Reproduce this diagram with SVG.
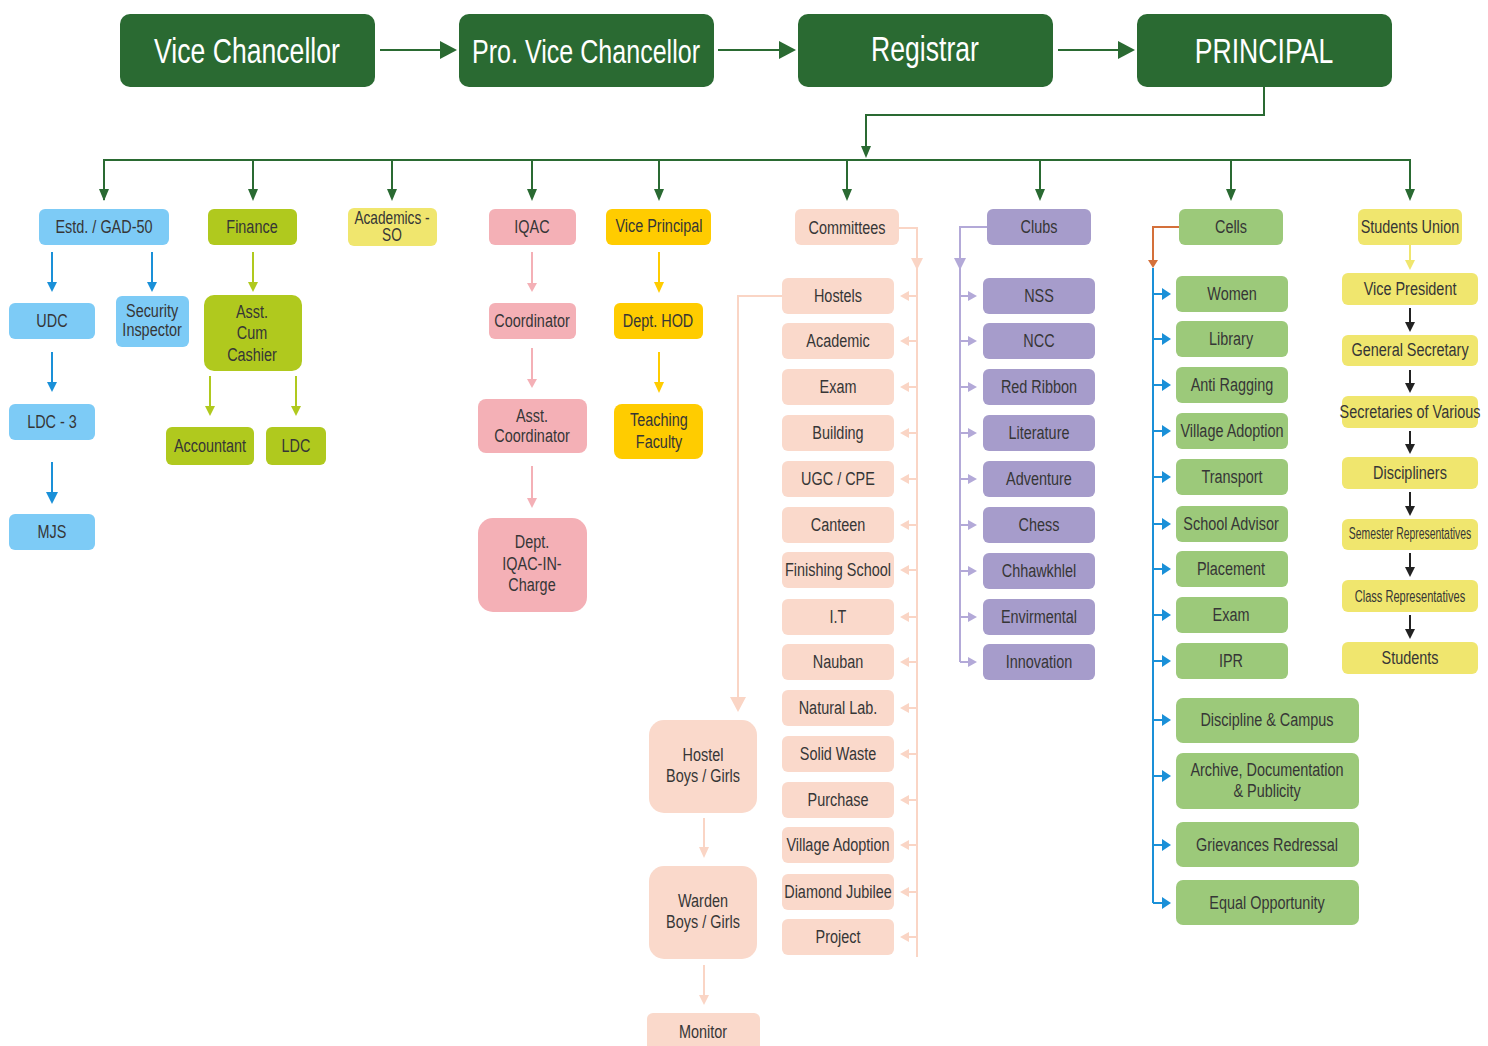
<svg xmlns="http://www.w3.org/2000/svg" width="1488" height="1046" viewBox="0 0 1488 1046">
<style>
.t{font-family:"Liberation Sans",Arial,sans-serif;font-size:19px;fill:#363636;text-anchor:middle;dominant-baseline:central;transform-box:fill-box;transform-origin:center;transform:scaleX(0.76)}
.tt{font-size:35px;fill:#fff}
.nar{transform:scaleX(0.65)}
.top{fill:#2a6a32}
.blue{fill:#7dcbf6}.lime{fill:#b0c91e}.ylw{fill:#f0e66e}.pink{fill:#f4b0b6}.gold{fill:#ffcc00}.peach{fill:#fad9cb}.lav{fill:#a69ccb}.grn{fill:#9cc97a}
.cg{stroke:#2a6a32;stroke-width:2;fill:none}
.cb{stroke:#1a90d8;stroke-width:2;fill:none}
.cl{stroke:#b0c91e;stroke-width:2;fill:none}
.cp{stroke:#f4b0b6;stroke-width:2;fill:none}
.cy{stroke:#ffcc00;stroke-width:2;fill:none}
.ce{stroke:#fad5c5;stroke-width:2;fill:none}
.cv{stroke:#b3a9d8;stroke-width:2;fill:none}
.co{stroke:#d4703a;stroke-width:2;fill:none}
.cs{stroke:#f0e66e;stroke-width:2;fill:none}
.ck{stroke:#222;stroke-width:2;fill:none}
</style>
<g id="connectors">
<path class="cg" d="M380,50H441M718,50H780M1058,50H1119"/>
<polygon fill="#2a6a32" points="440,41 457,50 440,59"/>
<polygon fill="#2a6a32" points="779,41 796,50 779,59"/>
<polygon fill="#2a6a32" points="1118,41 1135,50 1118,59"/>
<path class="cg" d="M1264,87V115H866V148"/>
<polygon fill="#2a6a32" points="861,146 871,146 866,158"/>
<path class="cg" d="M104,200V160H1410V190M253,160V190M392,160V190M532,160V190M659,160V190M847,160V190M1040,160V190M1231,160V190M104,160V190"/>
<g fill="#2a6a32">
<polygon points="99,189 109,189 104,201"/><polygon points="248,189 258,189 253,201"/><polygon points="387,189 397,189 392,201"/><polygon points="527,189 537,189 532,201"/><polygon points="654,189 664,189 659,201"/><polygon points="842,189 852,189 847,201"/><polygon points="1035,189 1045,189 1040,201"/><polygon points="1226,189 1236,189 1231,201"/><polygon points="1405,189 1415,189 1410,201"/>
</g>
<path class="cb" d="M52,252V283M152,252V283M52,352V383M52,462V493"/>
<g fill="#1a90d8"><polygon points="47,282 57,282 52,292"/><polygon points="147,282 157,282 152,292"/><polygon points="47,382 57,382 52,392"/><polygon points="46,492 58,492 52,504"/></g>
<path class="cl" d="M253,252V283M210,376V407M296,376V407"/>
<g fill="#b0c91e"><polygon points="248,282 258,282 253,292"/><polygon points="205,406 215,406 210,416"/><polygon points="291,406 301,406 296,416"/></g>
<path class="cp" d="M532,252V284M532,348V380M532,466V499"/>
<g fill="#f4b0b6"><polygon points="527,283 537,283 532,292"/><polygon points="527,379 537,379 532,388"/><polygon points="527,498 537,498 532,508"/></g>
<path class="cy" d="M659,252V283M659,352V383"/>
<g fill="#ffcc00"><polygon points="654,282 664,282 659,293"/><polygon points="654,382 664,382 659,393"/></g>
<path class="ce" d="M899,228H917V957M782,296H738V700M704,818V849M704,965V996"/>
<g fill="#fad5c5"><polygon points="911,258 923,258 917,270"/><polygon points="730,697 746,697 738,712"/><polygon points="699,847 709,847 704,858"/><polygon points="699,995 709,995 704,1005"/></g>
<g class="ce">
<path d="M917,296H906M917,341H906M917,387H906M917,433H906M917,479H906M917,525H906M917,570H906M917,617H906M917,662H906M917,708H906M917,754H906M917,800H906M917,845H906M917,892H906M917,937H906"/>
</g>
<g fill="#fad5c5">
<polygon points="909,291 909,301 900,296"/><polygon points="909,336 909,346 900,341"/><polygon points="909,382 909,392 900,387"/><polygon points="909,428 909,438 900,433"/><polygon points="909,474 909,484 900,479"/><polygon points="909,520 909,530 900,525"/><polygon points="909,565 909,575 900,570"/><polygon points="909,612 909,622 900,617"/><polygon points="909,657 909,667 900,662"/><polygon points="909,703 909,713 900,708"/><polygon points="909,749 909,759 900,754"/><polygon points="909,795 909,805 900,800"/><polygon points="909,840 909,850 900,845"/><polygon points="909,887 909,897 900,892"/><polygon points="909,932 909,942 900,937"/>
</g>
<path class="cv" d="M987,227H960V662M960,296H969M960,341H969M960,387H969M960,433H969M960,479H969M960,525H969M960,571H969M960,617H969M960,662H969"/>
<g fill="#b3a9d8">
<polygon points="954,258 966,258 960,270"/>
<polygon points="968,291 968,301 977,296"/><polygon points="968,336 968,346 977,341"/><polygon points="968,382 968,392 977,387"/><polygon points="968,428 968,438 977,433"/><polygon points="968,474 968,484 977,479"/><polygon points="968,520 968,530 977,525"/><polygon points="968,566 968,576 977,571"/><polygon points="968,612 968,622 977,617"/><polygon points="968,657 968,667 977,662"/>
</g>
<path class="co" d="M1179,227H1153V262"/>
<polygon fill="#d4703a" points="1148,260 1158,260 1153,268"/>
<path class="cb" d="M1153,268V903M1153,294H1163M1153,339H1163M1153,385H1163M1153,431H1163M1153,477H1163M1153,524H1163M1153,569H1163M1153,615H1163M1153,661H1163M1153,720H1163M1153,776H1163M1153,845H1163M1153,903H1163"/>
<g fill="#1a90d8">
<polygon points="1162,288 1162,300 1171,294"/><polygon points="1162,333 1162,345 1171,339"/><polygon points="1162,379 1162,391 1171,385"/><polygon points="1162,425 1162,437 1171,431"/><polygon points="1162,471 1162,483 1171,477"/><polygon points="1162,518 1162,530 1171,524"/><polygon points="1162,563 1162,575 1171,569"/><polygon points="1162,609 1162,621 1171,615"/><polygon points="1162,655 1162,667 1171,661"/><polygon points="1162,714 1162,726 1171,720"/><polygon points="1162,770 1162,782 1171,776"/><polygon points="1162,839 1162,851 1171,845"/><polygon points="1162,897 1162,909 1171,903"/>
</g>
<path class="cs" d="M1410,245V262"/>
<polygon fill="#f0e66e" points="1405,260 1415,260 1410,270"/>
<path class="ck" d="M1410,308V323M1410,370V384M1410,431V445M1410,492V507M1410,553V568M1410,615V630"/>
<g fill="#222">
<polygon points="1405,322 1415,322 1410,332"/><polygon points="1405,383 1415,383 1410,393"/><polygon points="1405,444 1415,444 1410,454"/><polygon points="1405,506 1415,506 1410,516"/><polygon points="1405,567 1415,567 1410,577"/><polygon points="1405,629 1415,629 1410,639"/>
</g>
</g>
<g id="vc"><rect class="top" x="120" y="14" width="255" height="73" rx="10"/><text class="t tt" x="247" y="51">Vice Chancellor</text></g>
<g id="pvc"><rect class="top" x="459" y="14" width="255" height="73" rx="10"/><text class="t tt" x="586" y="51" style="font-size:33px">Pro. Vice Chancellor</text></g>
<g id="reg"><rect class="top" x="798" y="14" width="255" height="73" rx="10"/><text class="t tt" x="925" y="49">Registrar</text></g>
<g id="principal"><rect class="top" x="1137" y="14" width="255" height="73" rx="10"/><text class="t tt" x="1264" y="51">PRINCIPAL</text></g>

<g id="estd"><rect class="blue" x="39" y="209" width="130" height="36" rx="6"/><text class="t" x="104" y="227">Estd. / GAD-50</text></g>
<g id="udc"><rect class="blue" x="9" y="303" width="86" height="36" rx="6"/><text class="t" x="52" y="321">UDC</text></g>
<g id="security"><rect class="blue" x="116" y="296" width="73" height="51" rx="6"/><text class="t" x="152" y="311">Security</text><text class="t" x="152" y="330">Inspector</text></g>
<g id="ldc3"><rect class="blue" x="9" y="404" width="86" height="36" rx="6"/><text class="t" x="52" y="422">LDC - 3</text></g>
<g id="mjs"><rect class="blue" x="9" y="514" width="86" height="36" rx="6"/><text class="t" x="52" y="532">MJS</text></g>

<g id="finance"><rect class="lime" x="208" y="209" width="89" height="36" rx="6"/><text class="t" x="252" y="227">Finance</text></g>
<g id="cashier"><rect class="lime" x="204" y="295" width="98" height="76" rx="10"/><text class="t" x="252" y="312">Asst.</text><text class="t" x="252" y="333">Cum</text><text class="t" x="252" y="355">Cashier</text></g>
<g id="accountant"><rect class="lime" x="166" y="427" width="88" height="38" rx="6"/><text class="t" x="210" y="446">Accountant</text></g>
<g id="ldc"><rect class="lime" x="266" y="427" width="60" height="38" rx="6"/><text class="t" x="296" y="446">LDC</text></g>

<g id="academics"><rect class="ylw" x="348" y="208" width="89" height="38" rx="6"/><text class="t" x="392" y="218" style="font-size:18px">Academics -</text><text class="t" x="392" y="235" style="font-size:18px">SO</text></g>

<g id="iqac"><rect class="pink" x="489" y="209" width="87" height="36" rx="6"/><text class="t" x="532" y="227">IQAC</text></g>
<g id="coord"><rect class="pink" x="489" y="303" width="87" height="36" rx="6"/><text class="t" x="532" y="321">Coordinator</text></g>
<g id="asstcoord"><rect class="pink" x="478" y="399" width="109" height="54" rx="8"/><text class="t" x="532" y="416">Asst.</text><text class="t" x="532" y="436">Coordinator</text></g>
<g id="deptiqac"><rect class="pink" x="478" y="518" width="109" height="94" rx="15"/><text class="t" x="532" y="542">Dept.</text><text class="t" x="532" y="564">IQAC-IN-</text><text class="t" x="532" y="585">Charge</text></g>

<g id="vp"><rect class="gold" x="606" y="209" width="105" height="36" rx="6"/><text class="t" x="659" y="226">Vice Principal</text></g>
<g id="hod"><rect class="gold" x="614" y="303" width="89" height="36" rx="6"/><text class="t" x="658" y="321">Dept. HOD</text></g>
<g id="teaching"><rect class="gold" x="614" y="404" width="89" height="55" rx="8"/><text class="t" x="659" y="420">Teaching</text><text class="t" x="659" y="442">Faculty</text></g>

<g id="committees"><rect class="peach" x="795" y="209" width="104" height="36" rx="6"/><text class="t" x="847" y="228">Committees</text></g>
<g id="c-hostels"><rect class="peach" x="782" y="278" width="112" height="36" rx="6"/><text class="t" x="838" y="296">Hostels</text></g>
<g id="c-academic"><rect class="peach" x="782" y="323" width="112" height="36" rx="6"/><text class="t" x="838" y="341">Academic</text></g>
<g id="c-exam"><rect class="peach" x="782" y="369" width="112" height="36" rx="6"/><text class="t" x="838" y="387">Exam</text></g>
<g id="c-building"><rect class="peach" x="782" y="415" width="112" height="36" rx="6"/><text class="t" x="838" y="433">Building</text></g>
<g id="c-ugc"><rect class="peach" x="782" y="461" width="112" height="36" rx="6"/><text class="t" x="838" y="479">UGC / CPE</text></g>
<g id="c-canteen"><rect class="peach" x="782" y="507" width="112" height="36" rx="6"/><text class="t" x="838" y="525">Canteen</text></g>
<g id="c-finishing"><rect class="peach" x="782" y="552" width="112" height="36" rx="6"/><text class="t" x="838" y="570">Finishing School</text></g>
<g id="c-it"><rect class="peach" x="782" y="599" width="112" height="36" rx="6"/><text class="t" x="838" y="617">I.T</text></g>
<g id="c-nauban"><rect class="peach" x="782" y="644" width="112" height="36" rx="6"/><text class="t" x="838" y="662">Nauban</text></g>
<g id="c-natural"><rect class="peach" x="782" y="690" width="112" height="36" rx="6"/><text class="t" x="838" y="708">Natural Lab.</text></g>
<g id="c-solid"><rect class="peach" x="782" y="736" width="112" height="36" rx="6"/><text class="t" x="838" y="754">Solid Waste</text></g>
<g id="c-purchase"><rect class="peach" x="782" y="782" width="112" height="36" rx="6"/><text class="t" x="838" y="800">Purchase</text></g>
<g id="c-village"><rect class="peach" x="782" y="827" width="112" height="36" rx="6"/><text class="t" x="838" y="845">Village Adoption</text></g>
<g id="c-diamond"><rect class="peach" x="782" y="874" width="112" height="36" rx="6"/><text class="t" x="838" y="892">Diamond Jubilee</text></g>
<g id="c-project"><rect class="peach" x="782" y="919" width="112" height="36" rx="6"/><text class="t" x="838" y="937">Project</text></g>

<g id="hostel"><rect class="peach" x="649" y="720" width="108" height="93" rx="15"/><text class="t" x="703" y="755">Hostel</text><text class="t" x="703" y="776">Boys / Girls</text></g>
<g id="warden"><rect class="peach" x="649" y="866" width="108" height="93" rx="15"/><text class="t" x="703" y="901">Warden</text><text class="t" x="703" y="922">Boys / Girls</text></g>
<g id="monitor"><rect class="peach" x="647" y="1013" width="113" height="45" rx="6"/><text class="t" x="703" y="1032">Monitor</text></g>

<g id="clubs"><rect class="lav" x="987" y="209" width="104" height="36" rx="6"/><text class="t" x="1039" y="227">Clubs</text></g>
<g id="k-nss"><rect class="lav" x="983" y="278" width="112" height="36" rx="6"/><text class="t" x="1039" y="296">NSS</text></g>
<g id="k-ncc"><rect class="lav" x="983" y="323" width="112" height="36" rx="6"/><text class="t" x="1039" y="341">NCC</text></g>
<g id="k-red"><rect class="lav" x="983" y="369" width="112" height="36" rx="6"/><text class="t" x="1039" y="387">Red Ribbon</text></g>
<g id="k-lit"><rect class="lav" x="983" y="415" width="112" height="36" rx="6"/><text class="t" x="1039" y="433">Literature</text></g>
<g id="k-adv"><rect class="lav" x="983" y="461" width="112" height="36" rx="6"/><text class="t" x="1039" y="479">Adventure</text></g>
<g id="k-chess"><rect class="lav" x="983" y="507" width="112" height="36" rx="6"/><text class="t" x="1039" y="525">Chess</text></g>
<g id="k-chh"><rect class="lav" x="983" y="553" width="112" height="36" rx="6"/><text class="t" x="1039" y="571">Chhawkhlel</text></g>
<g id="k-env"><rect class="lav" x="983" y="599" width="112" height="36" rx="6"/><text class="t" x="1039" y="617">Envirmental</text></g>
<g id="k-inn"><rect class="lav" x="983" y="644" width="112" height="36" rx="6"/><text class="t" x="1039" y="662">Innovation</text></g>

<g id="cells"><rect class="grn" x="1179" y="209" width="104" height="36" rx="6"/><text class="t" x="1231" y="227">Cells</text></g>
<g id="e-women"><rect class="grn" x="1176" y="276" width="112" height="36" rx="6"/><text class="t" x="1232" y="294">Women</text></g>
<g id="e-library"><rect class="grn" x="1176" y="321" width="112" height="36" rx="6"/><text class="t" x="1231" y="339">Library</text></g>
<g id="e-anti"><rect class="grn" x="1176" y="367" width="112" height="36" rx="6"/><text class="t" x="1232" y="385">Anti Ragging</text></g>
<g id="e-village"><rect class="grn" x="1176" y="413" width="112" height="36" rx="6"/><text class="t" x="1232" y="431">Village Adoption</text></g>
<g id="e-transport"><rect class="grn" x="1176" y="459" width="112" height="36" rx="6"/><text class="t" x="1232" y="477">Transport</text></g>
<g id="e-school"><rect class="grn" x="1176" y="506" width="112" height="36" rx="6"/><text class="t" x="1231" y="524">School Advisor</text></g>
<g id="e-placement"><rect class="grn" x="1176" y="551" width="112" height="36" rx="6"/><text class="t" x="1231" y="569">Placement</text></g>
<g id="e-exam"><rect class="grn" x="1176" y="597" width="112" height="36" rx="6"/><text class="t" x="1231" y="615">Exam</text></g>
<g id="e-ipr"><rect class="grn" x="1176" y="643" width="112" height="36" rx="6"/><text class="t" x="1231" y="661">IPR</text></g>
<g id="e-discipline"><rect class="grn" x="1176" y="698" width="183" height="45" rx="7"/><text class="t" x="1267" y="720">Discipline &amp; Campus</text></g>
<g id="e-archive"><rect class="grn" x="1176" y="753" width="183" height="56" rx="7"/><text class="t" x="1267" y="770">Archive, Documentation</text><text class="t" x="1267" y="791">&amp; Publicity</text></g>
<g id="e-grievances"><rect class="grn" x="1176" y="822" width="183" height="45" rx="7"/><text class="t" x="1267" y="845">Grievances Redressal</text></g>
<g id="e-equal"><rect class="grn" x="1176" y="880" width="183" height="45" rx="7"/><text class="t" x="1267" y="903">Equal Opportunity</text></g>

<g id="su"><rect class="ylw" x="1358" y="209" width="104" height="36" rx="6"/><text class="t" x="1410" y="227">Students Union</text></g>
<g id="s-vp"><rect class="ylw" x="1342" y="273" width="136" height="32" rx="6"/><text class="t" x="1410" y="289">Vice President</text></g>
<g id="s-gs"><rect class="ylw" x="1342" y="335" width="136" height="31" rx="6"/><text class="t" x="1410" y="350">General Secretary</text></g>
<g id="s-sov"><rect class="ylw" x="1342" y="396" width="136" height="32" rx="6"/><text class="t" x="1410" y="412">Secretaries of Various</text></g>
<g id="s-disc"><rect class="ylw" x="1342" y="457" width="136" height="32" rx="6"/><text class="t" x="1410" y="473">Discipliners</text></g>
<g id="s-sem"><rect class="ylw" x="1342" y="519" width="136" height="31" rx="6"/><text class="t nar" x="1410" y="534" style="font-size:16px">Semester Representatives</text></g>
<g id="s-class"><rect class="ylw" x="1342" y="580" width="136" height="32" rx="6"/><text class="t nar" x="1410" y="596" style="font-size:17px">Class Representatives</text></g>
<g id="s-students"><rect class="ylw" x="1342" y="642" width="136" height="32" rx="6"/><text class="t" x="1410" y="658">Students</text></g>
</svg>
